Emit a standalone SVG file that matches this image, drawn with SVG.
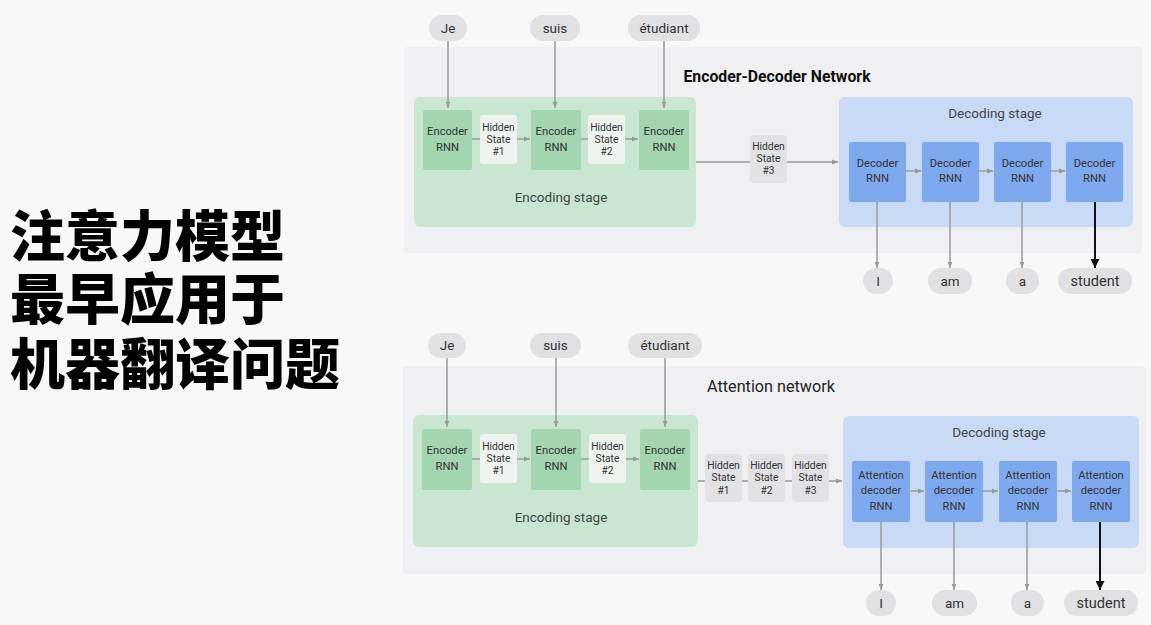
<svg xmlns="http://www.w3.org/2000/svg" width="1151" height="625" viewBox="0 0 1151 625">
<defs>
<style>
.bg{fill:#f8f8f8}
.panel{fill:#f0f0f2}
.green{fill:#c9e7d0}
.enc{fill:#a2d5b0}
.hin{fill:#eef3f0}
.hout{fill:#e2e2e5}
.blue{fill:#c9daf6}
.dec{fill:#7fa9ee}
.pill{fill:#e1e1e3}
text{font-family:Roboto,"Liberation Sans",sans-serif;fill:#333;text-anchor:middle}
.t11{font-size:11.2px}
.t10{font-size:10.3px}
.t13{font-size:13.5px;fill:#444}
.pt{font-size:13.5px;fill:#333}
.cn{font-family:"Noto Sans CJK SC",sans-serif;font-size:55px;font-weight:900;fill:#000;text-anchor:start}
.ln{stroke:#9a9a9a;stroke-width:1.5;fill:none}
.lk{stroke:#111;stroke-width:2;fill:none}
</style>
<marker id="ag" viewBox="0 0 10 10" refX="10" refY="5" markerWidth="6" markerHeight="6" markerUnits="userSpaceOnUse" orient="auto"><path d="M0,1 L10,5 L0,9 z" fill="#9a9a9a"/></marker>
<marker id="ak" viewBox="0 0 10 10" refX="10" refY="5" markerWidth="9" markerHeight="9" markerUnits="userSpaceOnUse" orient="auto"><path d="M0,0 L10,5 L0,10 z" fill="#111"/></marker>
</defs>
<rect class="bg" x="0" y="0" width="1151" height="625"/>

<g id="title">
<text class="cn"><tspan x="10" y="256">注意力模型</tspan><tspan x="10" y="319">最早应用于</tspan><tspan x="10" y="384">机器翻译问题</tspan></text>
</g>

<!-- TOP DIAGRAM -->
<g id="top-panel">
<rect class="panel" x="404" y="47" width="738" height="206" rx="3"/>
<text x="777" y="82" style="font-size:15.8px;font-weight:bold;fill:#111">Encoder-Decoder Network</text>
</g>
<g id="top-encoding-stage">
<rect class="green" x="414" y="97" width="282" height="130" rx="6"/>
<text class="t13" x="561" y="202">Encoding stage</text>
</g>
<g id="top-decoding-stage">
<rect class="blue" x="839" y="97" width="294" height="130" rx="6"/>
<text class="t13" x="995" y="118">Decoding stage</text>
</g>

<g id="top-connectors">
<line class="ln" x1="448" y1="41" x2="448" y2="108" marker-end="url(#ag)"/>
<line class="ln" x1="555" y1="41" x2="555" y2="108" marker-end="url(#ag)"/>
<line class="ln" x1="664" y1="41" x2="664" y2="108" marker-end="url(#ag)"/>
<line class="ln" x1="472" y1="139" x2="481" y2="139"/>
<line class="ln" x1="517" y1="139" x2="530" y2="139" marker-end="url(#ag)"/>
<line class="ln" x1="581" y1="139" x2="589" y2="139"/>
<line class="ln" x1="625" y1="139" x2="638" y2="139" marker-end="url(#ag)"/>
<line class="ln" x1="696" y1="162" x2="750" y2="162"/>
<line class="ln" x1="787" y1="162" x2="838" y2="162" marker-end="url(#ag)"/>
<line class="ln" x1="906" y1="171" x2="921" y2="171" marker-end="url(#ag)"/>
<line class="ln" x1="979" y1="171" x2="993" y2="171" marker-end="url(#ag)"/>
<line class="ln" x1="1051" y1="171" x2="1065" y2="171" marker-end="url(#ag)"/>
<line class="ln" x1="877" y1="201" x2="877" y2="268" marker-end="url(#ag)"/>
<line class="ln" x1="950" y1="201" x2="950" y2="268" marker-end="url(#ag)"/>
<line class="ln" x1="1022" y1="201" x2="1022" y2="268" marker-end="url(#ag)"/>
<line class="lk" x1="1095" y1="201" x2="1095" y2="268" marker-end="url(#ak)"/>
</g>

<g id="top-in-je"><rect class="pill" x="429" y="15" width="38" height="26" rx="13"/><text class="pt" x="448" y="33">Je</text></g>
<g id="top-in-suis"><rect class="pill" x="530" y="15" width="50" height="26" rx="13"/><text class="pt" x="555" y="33">suis</text></g>
<g id="top-in-etudiant"><rect class="pill" x="628" y="15" width="72" height="26" rx="13"/><text class="pt" x="664" y="33">étudiant</text></g>

<g id="top-enc1"><rect class="enc" x="423" y="110" width="49" height="60" rx="2"/><text class="t11" x="447.5" y="135">Encoder</text><text class="t11" x="447.5" y="151">RNN</text></g>
<g id="top-h1"><rect class="hin" x="480" y="115" width="37" height="49" rx="3"/><text class="t10" x="498.5" y="131">Hidden</text><text class="t10" x="498.5" y="143">State</text><text class="t10" x="498.5" y="155">#1</text></g>
<g id="top-enc2"><rect class="enc" x="531" y="110" width="50" height="60" rx="2"/><text class="t11" x="556" y="135">Encoder</text><text class="t11" x="556" y="151">RNN</text></g>
<g id="top-h2"><rect class="hin" x="588" y="115" width="37" height="49" rx="3"/><text class="t10" x="606.5" y="131">Hidden</text><text class="t10" x="606.5" y="143">State</text><text class="t10" x="606.5" y="155">#2</text></g>
<g id="top-enc3"><rect class="enc" x="639" y="110" width="50" height="60" rx="2"/><text class="t11" x="664" y="135">Encoder</text><text class="t11" x="664" y="151">RNN</text></g>
<g id="top-h3"><rect class="hout" x="750" y="135" width="37" height="48" rx="4"/><text class="t10" x="768.5" y="150">Hidden</text><text class="t10" x="768.5" y="162">State</text><text class="t10" x="768.5" y="174">#3</text></g>

<g id="top-dec1"><rect class="dec" x="849" y="142" width="57" height="60" rx="2"/><text class="t11" x="877.5" y="167">Decoder</text><text class="t11" x="877.5" y="182">RNN</text></g>
<g id="top-dec2"><rect class="dec" x="922" y="142" width="57" height="60" rx="2"/><text class="t11" x="950.5" y="167">Decoder</text><text class="t11" x="950.5" y="182">RNN</text></g>
<g id="top-dec3"><rect class="dec" x="994" y="142" width="57" height="60" rx="2"/><text class="t11" x="1022.5" y="167">Decoder</text><text class="t11" x="1022.5" y="182">RNN</text></g>
<g id="top-dec4"><rect class="dec" x="1066" y="142" width="57" height="60" rx="2"/><text class="t11" x="1094.5" y="167">Decoder</text><text class="t11" x="1094.5" y="182">RNN</text></g>

<g id="top-out-i"><rect class="pill" x="863" y="268" width="30" height="26" rx="13"/><text class="pt" x="878" y="286">I</text></g>
<g id="top-out-am"><rect class="pill" x="928" y="268" width="44" height="26" rx="13"/><text class="pt" x="950" y="286">am</text></g>
<g id="top-out-a"><rect class="pill" x="1006" y="268" width="33" height="26" rx="13"/><text class="pt" x="1022.5" y="286">a</text></g>
<g id="top-out-student"><rect class="pill" x="1058" y="268" width="74" height="26" rx="13"/><text class="pt" x="1095" y="286" style="font-size:14.5px">student</text></g>

<!-- BOTTOM DIAGRAM -->
<g id="bot-panel">
<rect class="panel" x="403" y="366" width="743" height="208" rx="3"/>
<text x="771" y="392" style="font-size:16.2px;fill:#222">Attention network</text>
</g>
<g id="bot-encoding-stage">
<rect class="green" x="413" y="415" width="285" height="132" rx="6"/>
<text class="t13" x="561" y="522">Encoding stage</text>
</g>
<g id="bot-decoding-stage">
<rect class="blue" x="843" y="416" width="296" height="132" rx="6"/>
<text class="t13" x="999" y="437">Decoding stage</text>
</g>

<g id="bot-connectors">
<line class="ln" x1="447" y1="358" x2="447" y2="427" marker-end="url(#ag)"/>
<line class="ln" x1="556" y1="358" x2="556" y2="427" marker-end="url(#ag)"/>
<line class="ln" x1="665" y1="358" x2="665" y2="427" marker-end="url(#ag)"/>
<line class="ln" x1="472" y1="459" x2="480" y2="459"/>
<line class="ln" x1="517" y1="459" x2="530" y2="459" marker-end="url(#ag)"/>
<line class="ln" x1="581" y1="459" x2="589" y2="459"/>
<line class="ln" x1="626" y1="459" x2="639" y2="459" marker-end="url(#ag)"/>
<line class="ln" x1="698" y1="481" x2="705" y2="481"/>
<line class="ln" x1="742" y1="481" x2="748" y2="481"/>
<line class="ln" x1="785" y1="481" x2="792" y2="481"/>
<line class="ln" x1="829" y1="481" x2="842" y2="481" marker-end="url(#ag)"/>
<line class="ln" x1="910" y1="491" x2="924" y2="491" marker-end="url(#ag)"/>
<line class="ln" x1="983" y1="491" x2="998" y2="491" marker-end="url(#ag)"/>
<line class="ln" x1="1057" y1="491" x2="1071" y2="491" marker-end="url(#ag)"/>
<line class="ln" x1="881" y1="521" x2="881" y2="590" marker-end="url(#ag)"/>
<line class="ln" x1="954" y1="521" x2="954" y2="590" marker-end="url(#ag)"/>
<line class="ln" x1="1027" y1="521" x2="1027" y2="590" marker-end="url(#ag)"/>
<line class="lk" x1="1100" y1="521" x2="1100" y2="590" marker-end="url(#ak)"/>
</g>

<g id="bot-in-je"><rect class="pill" x="428" y="333" width="38" height="25" rx="12.5"/><text class="pt" x="447" y="350">Je</text></g>
<g id="bot-in-suis"><rect class="pill" x="530" y="333" width="51" height="25" rx="12.5"/><text class="pt" x="555.5" y="350">suis</text></g>
<g id="bot-in-etudiant"><rect class="pill" x="628" y="333" width="74" height="25" rx="12.5"/><text class="pt" x="665" y="350">étudiant</text></g>

<g id="bot-enc1"><rect class="enc" x="422" y="429" width="50" height="61" rx="2"/><text class="t11" x="447" y="454">Encoder</text><text class="t11" x="447" y="470">RNN</text></g>
<g id="bot-h1"><rect class="hin" x="480" y="434" width="37" height="49" rx="3"/><text class="t10" x="498.5" y="450">Hidden</text><text class="t10" x="498.5" y="462">State</text><text class="t10" x="498.5" y="474">#1</text></g>
<g id="bot-enc2"><rect class="enc" x="531" y="429" width="50" height="61" rx="2"/><text class="t11" x="556" y="454">Encoder</text><text class="t11" x="556" y="470">RNN</text></g>
<g id="bot-h2"><rect class="hin" x="589" y="434" width="37" height="49" rx="3"/><text class="t10" x="607.5" y="450">Hidden</text><text class="t10" x="607.5" y="462">State</text><text class="t10" x="607.5" y="474">#2</text></g>
<g id="bot-enc3"><rect class="enc" x="640" y="429" width="50" height="61" rx="2"/><text class="t11" x="665" y="454">Encoder</text><text class="t11" x="665" y="470">RNN</text></g>

<g id="bot-hs1"><rect class="hout" x="705" y="454" width="37" height="48" rx="4"/><text class="t10" x="723.5" y="469">Hidden</text><text class="t10" x="723.5" y="481">State</text><text class="t10" x="723.5" y="494">#1</text></g>
<g id="bot-hs2"><rect class="hout" x="748" y="454" width="37" height="48" rx="4"/><text class="t10" x="766.5" y="469">Hidden</text><text class="t10" x="766.5" y="481">State</text><text class="t10" x="766.5" y="494">#2</text></g>
<g id="bot-hs3"><rect class="hout" x="792" y="454" width="37" height="48" rx="4"/><text class="t10" x="810.5" y="469">Hidden</text><text class="t10" x="810.5" y="481">State</text><text class="t10" x="810.5" y="494">#3</text></g>

<g id="bot-dec1"><rect class="dec" x="852" y="461" width="58" height="61" rx="2"/><text class="t11" x="881" y="479">Attention</text><text class="t11" x="881" y="494">decoder</text><text class="t11" x="881" y="510">RNN</text></g>
<g id="bot-dec2"><rect class="dec" x="925" y="461" width="58" height="61" rx="2"/><text class="t11" x="954" y="479">Attention</text><text class="t11" x="954" y="494">decoder</text><text class="t11" x="954" y="510">RNN</text></g>
<g id="bot-dec3"><rect class="dec" x="999" y="461" width="58" height="61" rx="2"/><text class="t11" x="1028" y="479">Attention</text><text class="t11" x="1028" y="494">decoder</text><text class="t11" x="1028" y="510">RNN</text></g>
<g id="bot-dec4"><rect class="dec" x="1072" y="461" width="58" height="61" rx="2"/><text class="t11" x="1101" y="479">Attention</text><text class="t11" x="1101" y="494">decoder</text><text class="t11" x="1101" y="510">RNN</text></g>

<g id="bot-out-i"><rect class="pill" x="866" y="590" width="30" height="26" rx="13"/><text class="pt" x="881" y="608">I</text></g>
<g id="bot-out-am"><rect class="pill" x="932" y="590" width="45" height="26" rx="13"/><text class="pt" x="954.5" y="608">am</text></g>
<g id="bot-out-a"><rect class="pill" x="1011" y="590" width="33" height="26" rx="13"/><text class="pt" x="1027.5" y="608">a</text></g>
<g id="bot-out-student"><rect class="pill" x="1064" y="590" width="74" height="26" rx="13"/><text class="pt" x="1101" y="608" style="font-size:14.5px">student</text></g>
</svg>
